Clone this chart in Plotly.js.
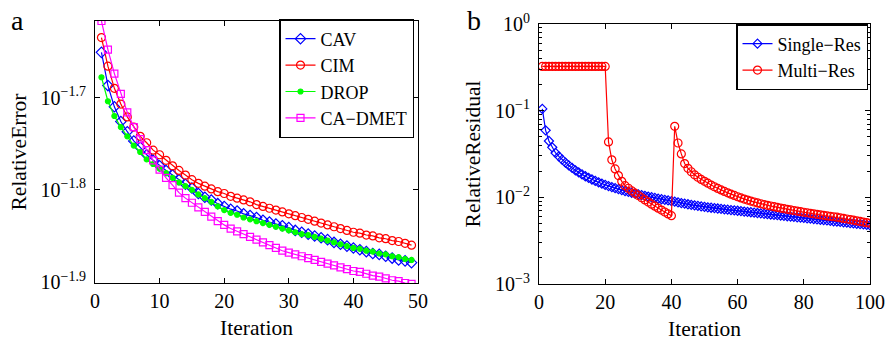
<!DOCTYPE html>
<html>
<head>
<meta charset="utf-8">
<script src="https://cdn.plot.ly/plotly-3.0.1.min.js"></script>
<style>html,body{margin:0;padding:0;background:#fff;}#chart{width:888px;height:342px;}</style>
</head>
<body>
<div id="chart"></div>
<script>
// ---- Panel a: relative error (values stored as log10 exponents) ----
const iterA = Array.from({length: 49}, (_, i) => i + 1);
const cavExp = [-1.651,-1.687,-1.710,-1.726,-1.737,-1.747,-1.754,-1.762,-1.768,-1.774,
  -1.779,-1.784,-1.789,-1.794,-1.798,-1.804,-1.808,-1.811,-1.815,-1.818,
  -1.821,-1.823,-1.826,-1.828,-1.830,-1.833,-1.835,-1.837,-1.839,-1.841,
  -1.844,-1.846,-1.848,-1.850,-1.852,-1.854,-1.857,-1.859,-1.861,-1.863,
  -1.865,-1.867,-1.869,-1.870,-1.872,-1.874,-1.876,-1.877,-1.879];
const cimExp = [-1.635,-1.666,-1.690,-1.707,-1.721,-1.732,-1.742,-1.749,-1.757,-1.762,
  -1.768,-1.774,-1.779,-1.784,-1.789,-1.793,-1.796,-1.799,-1.802,-1.804,
  -1.807,-1.809,-1.811,-1.813,-1.816,-1.818,-1.820,-1.822,-1.824,-1.826,
  -1.828,-1.830,-1.832,-1.834,-1.836,-1.838,-1.840,-1.842,-1.844,-1.846,
  -1.847,-1.849,-1.850,-1.852,-1.853,-1.855,-1.856,-1.858,-1.860];
const dropExp = [-1.678,-1.704,-1.720,-1.732,-1.742,-1.752,-1.759,-1.767,-1.772,-1.777,
  -1.782,-1.787,-1.792,-1.796,-1.800,-1.805,-1.809,-1.813,-1.818,-1.822,
  -1.825,-1.827,-1.830,-1.832,-1.834,-1.836,-1.838,-1.840,-1.842,-1.844,
  -1.846,-1.848,-1.849,-1.851,-1.853,-1.855,-1.857,-1.859,-1.861,-1.863,
  -1.864,-1.866,-1.867,-1.869,-1.870,-1.872,-1.873,-1.875,-1.876];
const cadmetExp = [-1.617,-1.648,-1.674,-1.696,-1.716,-1.732,-1.745,-1.757,-1.768,-1.778,
  -1.787,-1.795,-1.803,-1.809,-1.814,-1.819,-1.824,-1.829,-1.834,-1.838,
  -1.842,-1.845,-1.848,-1.851,-1.854,-1.857,-1.860,-1.863,-1.866,-1.868,
  -1.870,-1.872,-1.874,-1.876,-1.878,-1.880,-1.882,-1.884,-1.886,-1.888,
  -1.889,-1.891,-1.893,-1.894,-1.896,-1.898,-1.899,-1.901,-1.902];
const seriesA = ['CAV', 'CIM', 'DROP', 'CA\u2212DMET'];
const tickExpA = [-1.9, -1.8, -1.7];
const tickXA = [0, 10, 20, 30, 40, 50];

// ---- Panel b: relative residual (log10 exponents) ----
const iterB = Array.from({length: 100}, (_, i) => i + 1);
const singleExp = [-0.980,-1.227,-1.350,-1.423,-1.488,-1.527,-1.565,-1.600,-1.632,-1.661,
  -1.688,-1.713,-1.736,-1.757,-1.776,-1.794,-1.811,-1.827,-1.842,-1.857,
  -1.870,-1.882,-1.894,-1.905,-1.916,-1.927,-1.937,-1.947,-1.956,-1.965,
  -1.974,-1.983,-1.991,-1.999,-2.007,-2.015,-2.022,-2.029,-2.036,-2.043,
  -2.050,-2.058,-2.066,-2.073,-2.080,-2.087,-2.093,-2.099,-2.105,-2.110,
  -2.115,-2.120,-2.124,-2.129,-2.133,-2.138,-2.142,-2.147,-2.151,-2.155,
  -2.159,-2.164,-2.168,-2.172,-2.177,-2.181,-2.185,-2.190,-2.194,-2.198,
  -2.202,-2.206,-2.210,-2.214,-2.218,-2.222,-2.226,-2.230,-2.234,-2.238,
  -2.242,-2.246,-2.250,-2.255,-2.259,-2.263,-2.267,-2.271,-2.276,-2.280,
  -2.284,-2.288,-2.292,-2.297,-2.301,-2.305,-2.309,-2.313,-2.318,-2.322];
const multiExp = [-0.489,-0.489,-0.489,-0.489,-0.489,-0.489,-0.489,-0.489,-0.489,-0.489,
  -0.489,-0.489,-0.489,-0.489,-0.489,-0.489,-0.489,-0.489,-0.489,-0.489,
  -1.361,-1.567,-1.672,-1.749,-1.815,-1.865,-1.895,-1.924,-1.952,-1.979,
  -2.005,-2.030,-2.055,-2.079,-2.102,-2.125,-2.147,-2.169,-2.191,-2.212,
  -1.181,-1.373,-1.499,-1.610,-1.665,-1.705,-1.740,-1.768,-1.793,-1.815,
  -1.837,-1.858,-1.878,-1.897,-1.915,-1.932,-1.948,-1.963,-1.978,-1.993,
  -2.007,-2.020,-2.032,-2.043,-2.054,-2.064,-2.074,-2.083,-2.092,-2.100,
  -2.108,-2.116,-2.124,-2.131,-2.138,-2.145,-2.152,-2.159,-2.166,-2.172,
  -2.178,-2.184,-2.190,-2.196,-2.202,-2.208,-2.214,-2.219,-2.224,-2.229,
  -2.236,-2.243,-2.250,-2.257,-2.264,-2.271,-2.278,-2.285,-2.292,-2.299];
const seriesB = ['Single\u2212Res', 'Multi\u2212Res'];
const tickExpB = [-3, -2, -1, 0];
const tickXB = [0, 20, 40, 60, 80, 100];

const toVal = arr => arr.map(e => Math.pow(10, e));
const FONT = '"Liberation Serif", "Times New Roman", serif';

function tr(x, exps, name, color, symbol, size, xa, ya, leg) {
  return {
    x: x, y: toVal(exps), name: name, type: 'scatter', mode: 'lines+markers',
    xaxis: xa, yaxis: ya, legend: leg,
    line: {color: color, width: 1.2},
    marker: {symbol: symbol, size: size, color: color, line: {color: color, width: 1.2}}
  };
}

const data = [
  tr(iterA, cavExp, seriesA[0], '#0000ff', 'diamond-open', 8, 'x', 'y', 'legend'),
  tr(iterA, cimExp, seriesA[1], '#ff0000', 'circle-open', 8, 'x', 'y', 'legend'),
  tr(iterA, dropExp, seriesA[2], '#00ff00', 'circle', 5, 'x', 'y', 'legend'),
  tr(iterA, cadmetExp, seriesA[3], '#ff00ff', 'square-open', 7, 'x', 'y', 'legend'),
  tr(iterB, singleExp, seriesB[0], '#0000ff', 'diamond-open', 7, 'x2', 'y2', 'legend2'),
  tr(iterB, multiExp, seriesB[1], '#ff0000', 'circle-open', 8, 'x2', 'y2', 'legend2')
];

const axBase = {
  showline: true, mirror: 'ticks', linecolor: '#000', linewidth: 1,
  ticks: 'inside', ticklen: 5, tickcolor: '#000', tickwidth: 1,
  showgrid: false, zeroline: false, automargin: false,
  tickfont: {family: FONT, size: 20, color: '#000'}
};
const sup = e => '10<sup>\u2212' + String(Math.abs(e)) + '</sup>';
const supB = e => e === 0 ? '10<sup>0</sup>' : sup(e);
const titleFont = {family: FONT, size: 21.5, color: '#000'};

const layout = {
  width: 888, height: 342,
  margin: {l: 0, r: 0, t: 0, b: 0},
  paper_bgcolor: '#fff', plot_bgcolor: '#fff',
  font: {family: FONT, color: '#000'},
  showlegend: true,
  xaxis: Object.assign({}, axBase, {
    domain: [95/888, 418/888], anchor: 'y', range: [0, 50],
    tickmode: 'array', tickvals: tickXA, ticktext: tickXA.map(String),
    title: {text: 'Iteration', font: titleFont, standoff: 8}
  }),
  yaxis: Object.assign({}, axBase, {
    domain: [59/342, 321/342], anchor: 'x', type: 'log', range: [-1.901, -1.617],
    tickmode: 'array', tickvals: tickExpA.map(e => Math.pow(10, e)), ticktext: tickExpA.map(sup),
    ticklabelstandoff: 4,
    title: {text: 'RelativeError', font: titleFont, standoff: 8}
  }),
  xaxis2: Object.assign({}, axBase, {
    domain: [539/888, 870/888], anchor: 'y2', range: [0, 100],
    tickmode: 'array', tickvals: tickXB, ticktext: tickXB.map(String),
    title: {text: 'Iteration', font: titleFont, standoff: 8}
  }),
  yaxis2: Object.assign({}, axBase, {
    domain: [58/342, 318/342], anchor: 'x2', type: 'log', range: [-3, 0],
    tickmode: 'array', tickvals: tickExpB.map(e => Math.pow(10, e)), ticktext: tickExpB.map(supB),
    ticklabelstandoff: 4,
    minor: {ticks: 'inside', ticklen: 3, tickcolor: '#000', dtick: 'D1', showgrid: false},
    title: {text: 'RelativeResidual', font: titleFont, standoff: 8}
  }),
  legend: {
    x: 279/888, y: 1 - 19/342, xanchor: 'left', yanchor: 'top',
    bgcolor: '#fff', bordercolor: '#000', borderwidth: 1.5,
    font: {family: FONT, size: 18, color: '#000'}, itemwidth: 30, tracegroupgap: 0
  },
  legend2: {
    x: 736/888, y: 1 - 24/342, xanchor: 'left', yanchor: 'top',
    bgcolor: '#fff', bordercolor: '#000', borderwidth: 1.5,
    font: {family: FONT, size: 18, color: '#000'}, itemwidth: 30, tracegroupgap: 0
  },
  annotations: [
    {text: 'a', xref: 'paper', yref: 'paper', x: 17/888, y: 1 - 21/342, xanchor: 'center', yanchor: 'middle',
     showarrow: false, font: {family: FONT, size: 28, color: '#000'}},
    {text: 'b', xref: 'paper', yref: 'paper', x: 474/888, y: 1 - 21/342, xanchor: 'center', yanchor: 'middle',
     showarrow: false, font: {family: FONT, size: 28, color: '#000'}}
  ]
};

Plotly.newPlot('chart', data, layout, {staticPlot: true, displayModeBar: false});
</script>
</body>
</html>
